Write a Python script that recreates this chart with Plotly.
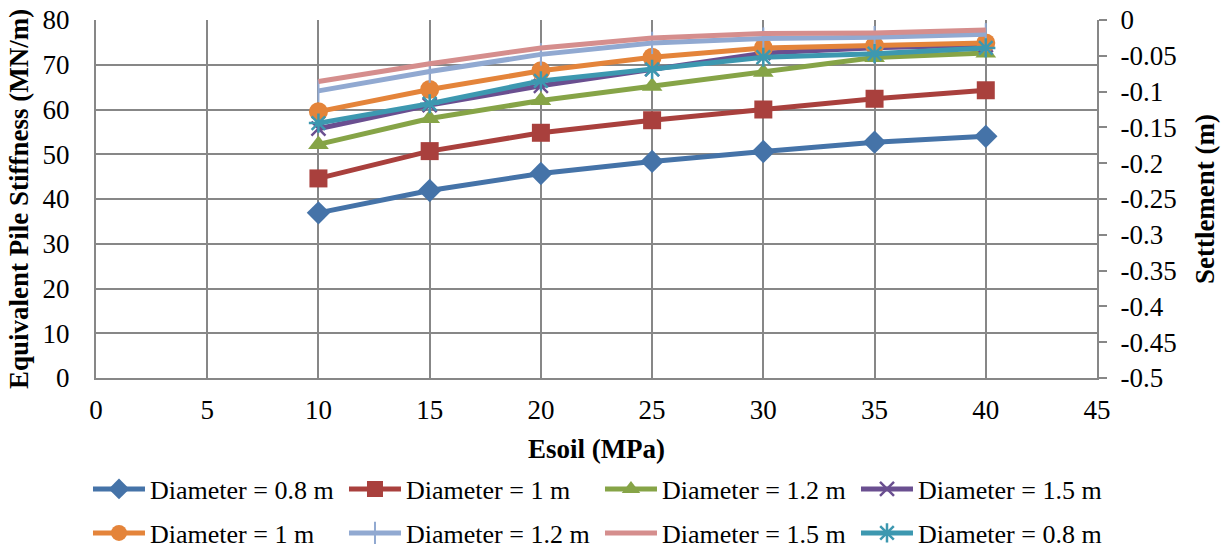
import plotly.graph_objects as go

# Soil modulus (MPa)
esoil = [10, 15, 20, 25, 30, 35, 40]

# Equivalent pile stiffness (MN/m) per pile diameter
stiff_d08 = [36.9, 41.9, 45.7, 48.4, 50.6, 52.7, 54.0]
stiff_d10 = [44.6, 50.7, 54.8, 57.6, 60.0, 62.4, 64.3]
stiff_d12 = [52.2, 58.0, 62.0, 65.2, 68.3, 71.6, 72.6]
stiff_d15 = [55.7, 61.0, 65.3, 69.0, 72.6, 73.8, 74.4]

# Settlement (m) per pile diameter
settle_d10 = [-0.128, -0.097, -0.071, -0.052, -0.039, -0.036, -0.032]
settle_d12 = [-0.099, -0.072, -0.048, -0.032, -0.026, -0.024, -0.020]
settle_d15 = [-0.086, -0.061, -0.039, -0.025, -0.019, -0.018, -0.014]
settle_d08 = [-0.144, -0.117, -0.085, -0.069, -0.052, -0.047, -0.039]

# Axis ticks
x_ticks = [0, 5, 10, 15, 20, 25, 30, 35, 40, 45]
y_ticks = [0, 10, 20, 30, 40, 50, 60, 70, 80]
y2_ticks = [0, -0.05, -0.1, -0.15, -0.2, -0.25, -0.3, -0.35, -0.4, -0.45, -0.5]
y2_labels = ["0", "-0.05", "-0.1", "-0.15", "-0.2", "-0.25", "-0.3", "-0.35",
             "-0.4", "-0.45", "-0.5"]

FONT = "Liberation Serif"
GRID = "#878787"

fig = go.Figure()

stiff_series = [
    ("Diameter = 0.8 m", stiff_d08, "#4573A8", dict(symbol="diamond", size=18)),
    ("Diameter = 1 m", stiff_d10, "#A9403D", dict(symbol="square", size=18)),
    ("Diameter = 1.2 m", stiff_d12, "#86A447", dict(symbol="triangle-up", size=18)),
    ("Diameter = 1.5 m", stiff_d15, "#6A4F90",
     dict(symbol="x-thin", size=14, line=dict(width=2.5, color="#6A4F90"))),
]
for name, vals, color, mk in stiff_series:
    fig.add_trace(go.Scatter(
        x=esoil, y=vals, name=name, mode="lines+markers",
        line=dict(color=color, width=5),
        marker=dict(color=color, **mk),
        legend="legend", yaxis="y",
    ))

settle_series = [
    ("Diameter = 1 m", settle_d10, "#E4843A", "lines+markers", dict(symbol="circle", size=19)),
    ("Diameter = 1.2 m", settle_d12, "#91A9D1", "lines+markers",
     dict(symbol="line-ns", size=16, line=dict(width=2, color="#91A9D1"))),
    ("Diameter = 1.5 m", settle_d15, "#D58E8D", "lines", dict()),
    ("Diameter = 0.8 m", settle_d08, "#3D98B0", "lines+markers",
     dict(symbol="asterisk", size=16, line=dict(width=2.5, color="#3D98B0"))),
]
for name, vals, color, mode, mk in settle_series:
    fig.add_trace(go.Scatter(
        x=esoil, y=vals, name=name, mode=mode,
        line=dict(color=color, width=5),
        marker=dict(color=color, **mk),
        legend="legend2", yaxis="y2",
    ))

tick_font = dict(family=FONT, size=27, color="black")
title_font = dict(family=FONT, size=27, color="black")
legend_common = dict(
    orientation="h", xanchor="left", yanchor="middle",
    font=dict(family=FONT, size=26, color="black"),
    itemwidth=52, entrywidth=189, bgcolor="rgba(0,0,0,0)",
    traceorder="normal",
)

# plot area in pixels: x 96..1097, y 20..378
PLOT_H = 358

fig.update_layout(
    width=1228, height=550,
    margin=dict(l=96, r=131, t=20, b=172, autoexpand=False),
    paper_bgcolor="white", plot_bgcolor="white",
    font=dict(family=FONT, color="black"),
    xaxis=dict(
        range=[0, 45], tickvals=x_ticks, tickfont=tick_font,
        showgrid=True, gridcolor=GRID, gridwidth=2,
        showline=True, linecolor=GRID, linewidth=2,
        zeroline=False, ticks="", ticklabelstandoff=7,
        title=dict(text="<b>Esoil (MPa)</b>", font=title_font, standoff=15),
    ),
    yaxis=dict(
        range=[0, 80], tickvals=y_ticks, tickfont=tick_font,
        showgrid=True, gridcolor=GRID, gridwidth=2,
        showline=True, linecolor=GRID, linewidth=2,
        zeroline=False, ticks="", ticklabelstandoff=19,
        title=dict(text="<b>Equivalent Pile Stiffness (MN/m)</b>", font=title_font, standoff=6),
    ),
    yaxis2=dict(
        range=[-0.5, 0], overlaying="y", side="right",
        tickvals=y2_ticks, ticktext=y2_labels, tickfont=tick_font,
        showgrid=False, showline=True, linecolor=GRID, linewidth=2,
        zeroline=False, ticks="outside", ticklen=8, tickwidth=2, tickcolor=GRID,
        ticklabelstandoff=8,
        title=dict(text="<b>Settlement (m)</b>", font=title_font, standoff=19),
    ),
    legend=dict(x=-0.008, y=(378 - 489) / PLOT_H, **legend_common),
    legend2=dict(x=-0.008, y=(378 - 533) / PLOT_H, **legend_common),
)

fig.write_html("out.html")
